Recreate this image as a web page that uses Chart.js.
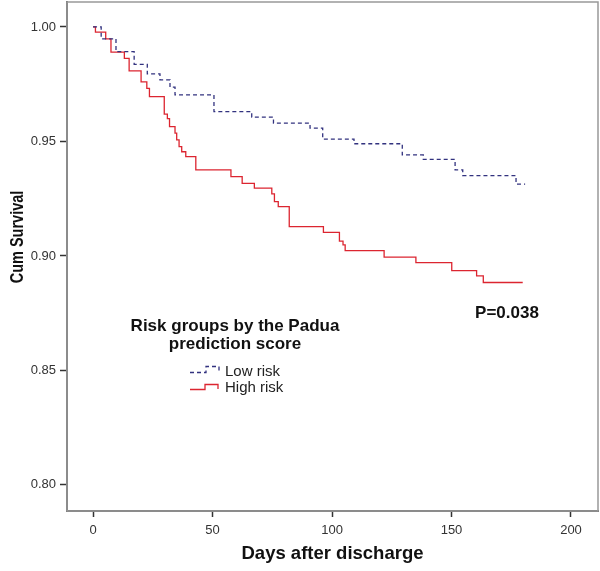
<!DOCTYPE html>
<html lang="en">
<head>
    <meta charset="UTF-8">
    <title>Cum Survival by Padua risk group</title>
    <script src="https://cdn.jsdelivr.net/npm/chart.js"></script>
    <style>
        html, body { margin: 0; padding: 0; background: #fff; }
        #wrap { width: 600px; height: 571px; position: relative; }
    </style>
</head>
<body>
    <div id="wrap"><canvas id="kmChart"></canvas></div>
    <script>
        // Kaplan-Meier steps (day of event, survival after it)
        const lowRiskDays = [0, 3.4, 9.6, 17.2, 22.7, 28, 32.2, 34.3, 50.6, 66.4, 75.5, 90.8, 96.1, 109.2, 129.4, 138.2, 151.5, 154.7, 177, 180.8];
        const lowRiskSurv = [1.000, 0.9948, 0.9892, 0.9837, 0.9795, 0.9769, 0.9737, 0.9703, 0.9630, 0.9606, 0.9580, 0.9558, 0.9510, 0.9490, 0.9441, 0.9422, 0.9376, 0.9351, 0.9314, 0.9314];

        const highRiskDays = [0, 1, 5.3, 7.5, 13.1, 15.1, 20.1, 22.5, 23.6, 29.8, 31.1, 32, 34.3, 35, 36, 37.1, 38.8, 43, 57.7, 62.4, 67.5, 74.8, 75.9, 77.5, 82.1, 96.4, 103.1, 104.6, 105.5, 121.8, 135.1, 150.1, 160.5, 163.3, 179.8];
        const highRiskSurv = [1.000, 0.9977, 0.9948, 0.9890, 0.9863, 0.9808, 0.9760, 0.9732, 0.9696, 0.9619, 0.9600, 0.9565, 0.9536, 0.9507, 0.9477, 0.9455, 0.9434, 0.9376, 0.9346, 0.9317, 0.9296, 0.9271, 0.9237, 0.9215, 0.9128, 0.9103, 0.9065, 0.9048, 0.9023, 0.8995, 0.8971, 0.8936, 0.8913, 0.8884, 0.8884];

        const xTicks = [0, 50, 100, 150, 200];
        const yTicks = [0.80, 0.85, 0.90, 0.95, 1.00];

        const legendTitle = ['Risk groups by the Padua', 'prediction score'];
        const legendLabels = ['Low risk', 'High risk'];
        const pValueText = 'P=0.038';

        const lowColor = '#32327f';
        const highColor = '#dc2530';

        const toPoints = (xs, ys) => xs.map((x, i) => ({ x: x, y: ys[i] }));

        // frame, y title, legend and p value
        const extrasPlugin = {
            id: 'extras',
            beforeDatasetsDraw(chart) {
                const { ctx, chartArea: a } = chart;
                ctx.save();
                ctx.strokeStyle = '#999';
                ctx.lineWidth = 1.5;
                ctx.strokeRect(a.left, a.top, a.right - a.left, a.bottom - a.top);
                ctx.restore();
            },
            afterDraw(chart) {
                const ctx = chart.ctx;
                ctx.save();
                ctx.fillStyle = '#111';

                // y axis title (source picture is a bit stretched sideways)
                ctx.save();
                ctx.translate(18, 237);
                ctx.rotate(-Math.PI / 2);
                ctx.scale(1, 1.3);
                ctx.font = 'bold 14.5px Arial, "Liberation Sans", sans-serif';
                ctx.textAlign = 'center';
                ctx.textBaseline = 'middle';
                ctx.fillText('Cum Survival', 0, 0);
                ctx.restore();

                // legend title
                ctx.font = 'bold 17px Arial, "Liberation Sans", sans-serif';
                ctx.textAlign = 'center';
                ctx.textBaseline = 'middle';
                ctx.fillText(legendTitle[0], 235, 326);
                ctx.fillText(legendTitle[1], 235, 344);

                // p value
                ctx.fillText(pValueText, 507, 313);

                // legend entries
                ctx.font = '15px Arial, "Liberation Sans", sans-serif';
                ctx.textAlign = 'left';
                ctx.fillStyle = '#222';
                ctx.fillText(legendLabels[0], 225, 372);
                ctx.fillText(legendLabels[1], 225, 388);

                ctx.lineWidth = 1.3;
                ctx.strokeStyle = lowColor;
                ctx.setLineDash([4, 3]);
                ctx.beginPath();
                ctx.moveTo(190, 372.5);
                ctx.lineTo(206, 372.5);
                ctx.lineTo(206, 366.5);
                ctx.lineTo(219, 366.5);
                ctx.lineTo(219, 371);
                ctx.stroke();

                ctx.setLineDash([]);
                ctx.strokeStyle = highColor;
                ctx.beginPath();
                ctx.moveTo(190, 389.5);
                ctx.lineTo(205, 389.5);
                ctx.lineTo(205, 384.5);
                ctx.lineTo(218, 384.5);
                ctx.lineTo(218, 389);
                ctx.stroke();
                ctx.restore();
            }
        };

        const ctx = document.getElementById('kmChart').getContext('2d');
        const kmChart = new Chart(ctx, {
            type: 'line',
            data: {
                datasets: [
                    {
                        label: legendLabels[0],
                        data: toPoints(lowRiskDays, lowRiskSurv),
                        borderColor: lowColor,
                        borderWidth: 1.3,
                        borderDash: [4, 3],
                        stepped: 'before',
                        pointRadius: 0,
                        fill: false
                    },
                    {
                        label: legendLabels[1],
                        data: toPoints(highRiskDays, highRiskSurv),
                        borderColor: highColor,
                        borderWidth: 1.3,
                        stepped: 'before',
                        pointRadius: 0,
                        fill: false
                    }
                ]
            },
            options: {
                responsive: true,
                maintainAspectRatio: false,
                animation: false,
                layout: { padding: { top: 2, right: 2, left: 0, bottom: 0 } },
                plugins: {
                    legend: { display: false },
                    tooltip: { enabled: false }
                },
                scales: {
                    x: {
                        type: 'linear',
                        min: -10.9,
                        max: 211.3,
                        afterBuildTicks: (s) => { s.ticks = xTicks.map(v => ({ value: v })); },
                        afterFit: (s) => { s.height = 60; s.paddingLeft = 0; s.paddingRight = 0; },
                        grid: { drawOnChartArea: false, drawTicks: true, tickLength: 6, tickColor: '#333', tickWidth: 1.5 },
                        border: { display: true, color: '#666', width: 2 },
                        ticks: {
                            color: '#333',
                            padding: 6,
                            maxRotation: 0,
                            font: { family: 'Arial, "Liberation Sans", sans-serif', size: 13 }
                        },
                        title: {
                            display: true,
                            text: 'Days after discharge',
                            color: '#111',
                            padding: { top: 0, bottom: 6 },
                            font: { family: 'Arial, "Liberation Sans", sans-serif', size: 18.5, weight: 'bold' }
                        }
                    },
                    y: {
                        min: 0.7886,
                        max: 1.0109,
                        afterBuildTicks: (s) => { s.ticks = yTicks.map(v => ({ value: v })); },
                        afterFit: (s) => { s.width = 67; s.paddingTop = 0; s.paddingBottom = 0; },
                        grid: { drawOnChartArea: false, drawTicks: true, tickLength: 7, tickColor: '#333', tickWidth: 1.5 },
                        border: { display: true, color: '#666', width: 2 },
                        ticks: {
                            color: '#333',
                            padding: 4,
                            callback: (v) => Number(v).toFixed(2),
                            font: { family: 'Arial, "Liberation Sans", sans-serif', size: 13 }
                        }
                    }
                }
            },
            plugins: [extrasPlugin]
        });
    </script>
</body>
</html>
